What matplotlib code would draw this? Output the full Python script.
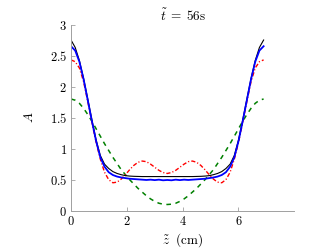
import numpy as np
import matplotlib
matplotlib.use("Agg")
import matplotlib.pyplot as plt

plt.rcParams['mathtext.fontset'] = 'cm'
plt.rcParams['font.family'] = ['cmr10', 'DejaVu Serif']
plt.rcParams['axes.unicode_minus'] = False

# z positions (cm)
z = [0.00, 0.15, 0.30, 0.45, 0.60, 0.75, 0.90, 1.05, 1.20, 1.35, 1.50, 1.65,
     1.80, 1.95, 2.10, 2.25, 2.40, 2.55, 2.70, 2.85, 3.00, 3.15, 3.30, 3.45,
     3.60, 3.75, 3.90, 4.05, 4.20, 4.35, 4.50, 4.65, 4.80, 4.95, 5.10, 5.25,
     5.40, 5.55, 5.70, 5.85, 6.00, 6.15, 6.30, 6.45, 6.60, 6.75, 6.90]

A_black = [2.75, 2.63, 2.42, 2.13, 1.80, 1.46, 1.14, 0.89, 0.75, 0.68, 0.63, 0.60,
           0.58, 0.565, 0.558, 0.554, 0.552, 0.55, 0.55, 0.55, 0.55, 0.55, 0.55, 0.55,
           0.55, 0.55, 0.55, 0.55, 0.55, 0.55, 0.552, 0.554, 0.558, 0.565, 0.58, 0.60,
           0.63, 0.68, 0.75, 0.89, 1.14, 1.46, 1.80, 2.13, 2.42, 2.63, 2.75]

A_blue = [2.65, 2.58, 2.40, 2.12, 1.78, 1.44, 1.12, 0.86, 0.71, 0.62, 0.575, 0.55,
          0.535, 0.525, 0.515, 0.51, 0.505, 0.50, 0.495, 0.50, 0.493, 0.50, 0.49, 0.495,
          0.49, 0.50, 0.493, 0.50, 0.495, 0.50, 0.505, 0.51, 0.515, 0.525, 0.535, 0.55,
          0.575, 0.62, 0.71, 0.86, 1.12, 1.44, 1.78, 2.12, 2.40, 2.58, 2.65]

A_red = [2.43, 2.40, 2.30, 2.08, 1.76, 1.42, 1.10, 0.83, 0.62, 0.50, 0.45, 0.46,
         0.51, 0.58, 0.66, 0.73, 0.78, 0.80, 0.79, 0.75, 0.70, 0.65, 0.615, 0.60,
         0.615, 0.65, 0.70, 0.75, 0.79, 0.80, 0.78, 0.73, 0.66, 0.58, 0.51, 0.46,
         0.45, 0.50, 0.62, 0.83, 1.10, 1.42, 1.76, 2.08, 2.30, 2.40, 2.43]

A_green = [1.80, 1.78, 1.73, 1.65, 1.55, 1.44, 1.32, 1.20, 1.08, 0.97, 0.86, 0.76,
           0.66, 0.58, 0.50, 0.43, 0.36, 0.30, 0.24, 0.19, 0.15, 0.12, 0.105, 0.10,
           0.105, 0.12, 0.15, 0.19, 0.24, 0.30, 0.36, 0.43, 0.50, 0.58, 0.66, 0.76,
           0.86, 0.97, 1.08, 1.20, 1.32, 1.44, 1.55, 1.65, 1.73, 1.78, 1.80]

xticks = [0, 2, 4, 6]
xtick_labels = ['$0$', '$2$', '$4$', '$6$']
yticks = [0, 0.5, 1, 1.5, 2, 2.5, 3]
ytick_labels = ['$0$', '$0.5$', '$1$', '$1.5$', '$2$', '$2.5$', '$3$']

fig = plt.figure(figsize=(3.32, 2.49), dpi=100)
ax = fig.add_axes([0.2139, 0.1538, 0.6726, 0.7478])

ax.plot(z, A_green, color='#008000', lw=1.1, ls=(0, (3, 3)))
ax.plot(z, A_red, color='#ff0000', lw=1.0, ls=(0, (3, 1.5, 0.8, 1.5)))
ax.plot(z, A_black, color='k', lw=0.8)
ax.plot(z, A_blue, color='#0000ff', lw=1.3)

ax.set_xlim(0, 8)
ax.set_ylim(0, 3)
ax.set_xticks(xticks)
ax.set_xticklabels(xtick_labels)
ax.set_yticks(yticks)
ax.set_yticklabels(ytick_labels)

for s in ['top', 'right']:
    ax.spines[s].set_visible(False)
for s in ['left', 'bottom']:
    ax.spines[s].set_color('#a0a0a0')
    ax.spines[s].set_linewidth(0.7)
ax.tick_params(direction='in', length=3, width=0.6, color='#a0a0a0',
               labelsize=9, pad=3)

ax.text(0.5, 1.005, r'$\tilde{t}\;=\;56\mathrm{s}$', transform=ax.transAxes,
        ha='center', va='bottom', fontsize=9.5)
ax.set_xlabel(r'$\tilde{z}\ \ \mathrm{(cm)}$', fontsize=9.5, labelpad=2.5)
ax.set_ylabel(r'$A$', fontsize=9.5, labelpad=10)

fig.savefig('out.png', dpi=100)
